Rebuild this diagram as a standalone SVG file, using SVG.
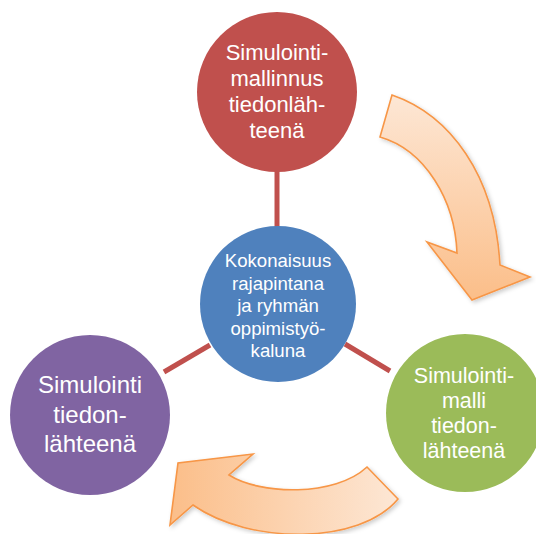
<svg xmlns="http://www.w3.org/2000/svg" width="536" height="534" viewBox="0 0 536 534">
<style>
.t{font-family:"Liberation Sans",Arial,sans-serif;fill:#fff;text-anchor:middle}
.c{stroke:#C0504D;stroke-width:5;fill:none}
.arr{stroke:#F79646;stroke-width:1.6;stroke-linejoin:miter}
</style>
<defs>
<linearGradient id="g1" x1="0" y1="0" x2="0" y2="1">
<stop offset="0" stop-color="#FDE7D5"/>
<stop offset="1" stop-color="#FBBE89"/>
</linearGradient>
<linearGradient id="g2" x1="1" y1="0" x2="0" y2="0">
<stop offset="0" stop-color="#FDE7D5"/>
<stop offset="1" stop-color="#FBBE89"/>
</linearGradient>
<filter id="sh" x="-20%" y="-20%" width="140%" height="140%">
<feDropShadow dx="2" dy="2" stdDeviation="2" flood-color="#000" flood-opacity="0.2"/>
</filter>
</defs>
<g id="connectors">
<line class="c" x1="277" y1="170" x2="277" y2="228"/>
<line class="c" x1="345" y1="344" x2="390" y2="371"/>
<line class="c" x1="210" y1="345" x2="164" y2="372"/>
</g>
<g id="arrow-right" filter="url(#sh)">
<path class="arr" fill="url(#g1)" d="M392,95 C450,115 495,175 500,265 L530,277 L472,300 L427,242 L457,253 C455,200 425,150 380,137 Z"/>
</g>
<g id="arrow-bottom" filter="url(#sh)">
<path class="arr" fill="url(#g2)" d="M367,467 L398,499 C360,545 250,545 193,505 L170,525 L178,463 L253,454 L229,475 C260,495 335,497 367,467 Z"/>
</g>
<g id="node-top">
<circle cx="277" cy="92" r="80" fill="#C0504D"/>
<text class="t" font-size="22" x="277" y="60">Simulointi-</text>
<text class="t" font-size="22" x="277" y="86">mallinnus</text>
<text class="t" font-size="22" x="277" y="112">tiedonläh-</text>
<text class="t" font-size="22" x="277" y="138">teenä</text>
</g>
<g id="node-center">
<circle cx="278" cy="304" r="78" fill="#4F81BD"/>
<text class="t" font-size="18.6" x="278" y="267">Kokonaisuus</text>
<text class="t" font-size="18.6" x="278" y="290">rajapintana</text>
<text class="t" font-size="18.6" x="278" y="312">ja ryhmän</text>
<text class="t" font-size="18.6" x="278" y="335">oppimistyö-</text>
<text class="t" font-size="18.6" x="278" y="357">kaluna</text>
</g>
<g id="node-left">
<circle cx="90" cy="415" r="80" fill="#8064A2"/>
<text class="t" font-size="24" x="90" y="393">Simulointi</text>
<text class="t" font-size="24" x="90" y="423">tiedon-</text>
<text class="t" font-size="24" x="90" y="452">lähteenä</text>
</g>
<g id="node-right">
<circle cx="465" cy="413" r="79" fill="#9BBB59"/>
<text class="t" font-size="21.5" x="464" y="383">Simulointi-</text>
<text class="t" font-size="21.5" x="464" y="408">malli</text>
<text class="t" font-size="21.5" x="464" y="433">tiedon-</text>
<text class="t" font-size="21.5" x="464" y="458">lähteenä</text>
</g>
</svg>
